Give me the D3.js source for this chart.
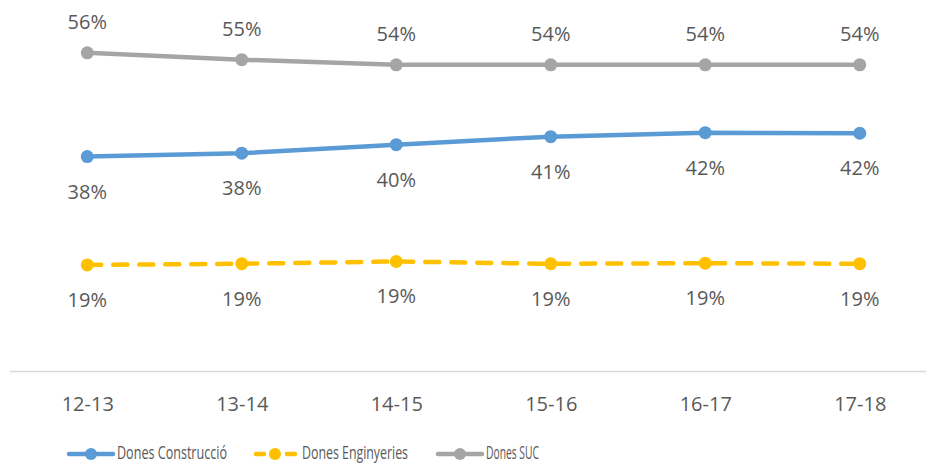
<!DOCTYPE html>
<html>
<head>
<meta charset="utf-8">
<script src="https://cdn.jsdelivr.net/npm/d3@7"></script>
<style>
  body { margin: 0; background: #fff; }
  svg { display: block; }
</style>
</head>
<body>
<svg id="chart" width="926" height="465"></svg>
<script>
const W = 926, H = 465;

// data
const cursos = ['12-13', '13-14', '14-15', '15-16', '16-17', '17-18'];
const donesConstruccio = [37.7, 38.3, 39.8, 41.2, 41.9, 41.8];
const donesEnginyeries = [18.7, 18.9, 19.3, 18.9, 19.0, 18.9];
const donesSUC = [55.9, 54.7, 53.8, 53.8, 53.8, 53.8];
const seriesNames = ['Dones Construcció', 'Dones Enginyeries', 'Dones SUC'];

const series = [
    { name: seriesNames[0], values: donesConstruccio, color: '#5B9BD5', dash: null, labelPos: 'below' },
    { name: seriesNames[1], values: donesEnginyeries, color: '#FFC000', dash: '14,12', labelPos: 'below' },
    { name: seriesNames[2], values: donesSUC, color: '#A5A5A5', dash: null, labelPos: 'above' }
];

const textColor = '#595959';
const font = '"Segoe UI", "Open Sans", "DejaVu Sans", sans-serif';

const svg = d3.select('#chart');

const xScale = d3.scalePoint()
    .domain(cursos)
    .range([10, 937])
    .padding(0.5);

const yScale = d3.scaleLinear()
    .domain([0, 60])
    .range([371.5, 29.5]);

// x axis
const xAxis = d3.axisBottom(xScale).tickSize(0).tickPadding(0);
const gx = svg.append('g')
    .attr('transform', 'translate(0,' + yScale(0) + ')')
    .call(xAxis);
gx.select('.domain')
    .attr('d', 'M10,0H926')
    .attr('stroke', '#D9D9D9')
    .attr('stroke-width', 1.5);
gx.selectAll('.tick text')
    .attr('y', 39)
    .attr('dy', null)
    .attr('fill', textColor)
    .style('font-family', font)
    .style('font-size', '20px');

const line = d3.line()
    .x((d, i) => xScale(cursos[i]))
    .y(d => yScale(d));

// lines, markers, labels
series.forEach(s => {
    const g = svg.append('g');
    g.append('path')
        .datum(s.values)
        .attr('d', line)
        .attr('fill', 'none')
        .attr('stroke', s.color)
        .attr('stroke-width', 4.5)
        .attr('stroke-linecap', 'round')
        .attr('stroke-dasharray', s.dash);

    g.selectAll('circle')
        .data(s.values)
        .join('circle')
        .attr('cx', (d, i) => xScale(cursos[i]))
        .attr('cy', d => yScale(d))
        .attr('r', 6.5)
        .attr('fill', s.color);

    g.selectAll('text')
        .data(s.values)
        .join('text')
        .attr('x', (d, i) => xScale(cursos[i]))
        .attr('y', d => yScale(d) + (s.labelPos == 'above' ? -24 : 42))
        .attr('text-anchor', 'middle')
        .attr('fill', textColor)
        .style('font-family', font)
        .style('font-size', '20px')
        .text(d => Math.round(d) + '%');
});

// legend
const legendX = [69, 254, 438];
const legendTextW = [110, 106, 53];
const legend = svg.append('g').attr('transform', 'translate(0,454)');
series.forEach((s, i) => {
    const x0 = legendX[i];
    const g = legend.append('g');
    if (s.dash) {
        g.append('line').attr('x1', x0 + 2).attr('x2', x0 + 10).attr('y1', 0).attr('y2', 0)
            .attr('stroke', s.color).attr('stroke-width', 4.5).attr('stroke-linecap', 'round');
        g.append('line').attr('x1', x0 + 33).attr('x2', x0 + 41).attr('y1', 0).attr('y2', 0)
            .attr('stroke', s.color).attr('stroke-width', 4.5).attr('stroke-linecap', 'round');
        g.append('circle').attr('cx', x0 + 21).attr('cy', 0).attr('r', 6).attr('fill', s.color);
    } else {
        g.append('line').attr('x1', x0).attr('x2', x0 + 44).attr('y1', 0).attr('y2', 0)
            .attr('stroke', s.color).attr('stroke-width', 4.5).attr('stroke-linecap', 'round');
        g.append('circle').attr('cx', x0 + 22).attr('cy', 0).attr('r', 6).attr('fill', s.color);
    }
    g.append('text')
        .attr('x', x0 + 48)
        .attr('y', 5)
        .attr('fill', textColor)
        .attr('textLength', legendTextW[i])
        .attr('lengthAdjust', 'spacingAndGlyphs')
        .style('font-family', '"Open Sans", sans-serif')
        .style('font-size', '18px')
        .text(s.name);
});
</script>
</body>
</html>
